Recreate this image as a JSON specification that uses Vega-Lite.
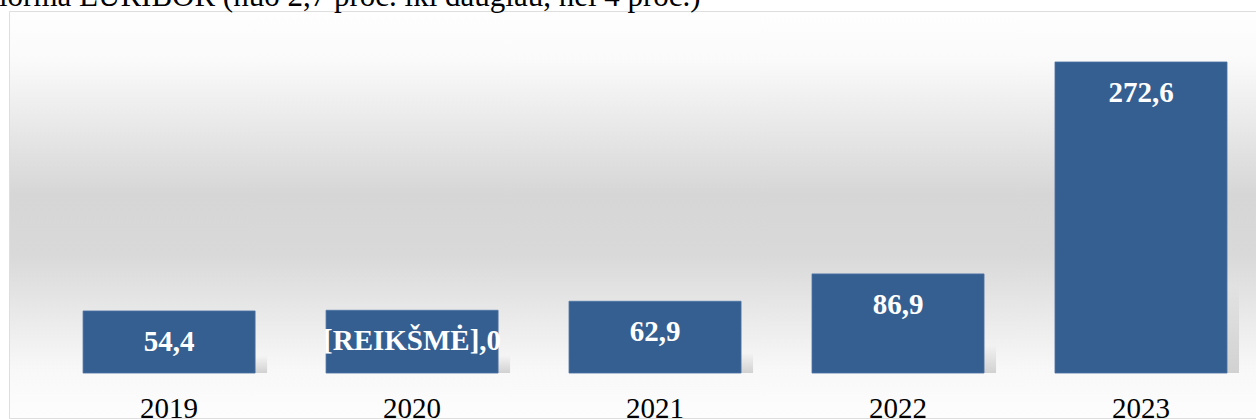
{
  "$schema": "https://vega.github.io/schema/vega-lite/v6.json",
  "width": 1246,
  "height": 406,
  "autosize": "none",
  "padding": {"left": 10, "top": 12, "right": 0, "bottom": 1},
  "background": "#ffffff",
  "title": {
    "text": "iorma EURIBOR (nuo 2,7 proc. iki daugiau, nei 4 proc.)",
    "anchor": "start",
    "frame": "group",
    "font": "Liberation Serif",
    "fontSize": 31,
    "fontWeight": "normal",
    "color": "#000000",
    "baseline": "alphabetic",
    "offset": 3,
    "dx": -11,
    "dy": 28,
    "zindex": 1
  },
  "config": {
    "view": {"stroke": "#d4d4d4", "strokeWidth": 1.5}
  },
  "datasets": {
    "bars": [
      {"year": "2019", "value": 54.4, "label": "54,4"},
      {"year": "2020", "value": 55.0, "label": "[REIKŠMĖ],0"},
      {"year": "2021", "value": 62.9, "label": "62,9"},
      {"year": "2022", "value": 86.9, "label": "86,9"},
      {"year": "2023", "value": 272.6, "label": "272,6"}
    ]
  },
  "layer": [
    {
      "data": {"values": [{"bg": 1}]},
      "mark": {
        "type": "rect",
        "fill": {
          "gradient": "linear",
          "x1": 0, "y1": 0, "x2": 0, "y2": 1,
          "stops": [
            {"offset": 0, "color": "#fefefe"},
            {"offset": 0.12, "color": "#fafafa"},
            {"offset": 0.45, "color": "#d6d6d6"},
            {"offset": 0.6, "color": "#d9d9d9"},
            {"offset": 0.88, "color": "#f8f8f8"},
            {"offset": 1, "color": "#fdfdfd"}
          ]
        }
      },
      "encoding": {}
    },
    {
      "data": {"name": "bars"},
      "mark": {
        "type": "bar",
        "xOffset": 12,
        "fill": {
          "gradient": "linear",
          "x1": 0, "y1": 0, "x2": 0, "y2": 1,
          "stops": [
            {"offset": 0, "color": "rgba(0,0,0,0)"},
            {"offset": 0.72, "color": "rgba(0,0,0,0)"},
            {"offset": 1, "color": "rgba(0,0,0,0.16)"}
          ]
        }
      },
      "encoding": {
        "x": {
          "field": "year", "type": "nominal",
          "scale": {"paddingInner": 0.292, "paddingOuter": 0.21, "align": 0.716},
          "axis": {
            "title": null, "labelAngle": 0, "domain": false, "ticks": false, "tickSize": 0,
            "labelFont": "Liberation Serif", "labelFontSize": 29, "labelColor": "#000000",
            "labelBaseline": "alphabetic", "labelPadding": 0, "offset": -1, "grid": false,
            "zindex": 1
          }
        },
        "y": {
          "field": "value", "type": "quantitative",
          "scale": {"domain": [-39.4, 316.4], "nice": false, "zero": false},
          "axis": null
        },
        "y2": {"datum": 0}
      }
    },
    {
      "data": {"name": "bars"},
      "mark": {"type": "bar", "color": "#365f91", "stroke": "#4d72a3", "strokeWidth": 0.8},
      "encoding": {
        "x": {"field": "year", "type": "nominal"},
        "y": {"field": "value", "type": "quantitative"},
        "y2": {"datum": 0}
      }
    },
    {
      "data": {"name": "bars"},
      "mark": {
        "type": "text",
        "font": "Liberation Serif",
        "fontSize": 29,
        "fontWeight": "bold",
        "color": "#ffffff",
        "baseline": "middle",
        "align": "center",
        "dy": 31
      },
      "encoding": {
        "x": {"field": "year", "type": "nominal"},
        "y": {"field": "value", "type": "quantitative"},
        "text": {"field": "label", "type": "nominal"}
      }
    }
  ]
}
